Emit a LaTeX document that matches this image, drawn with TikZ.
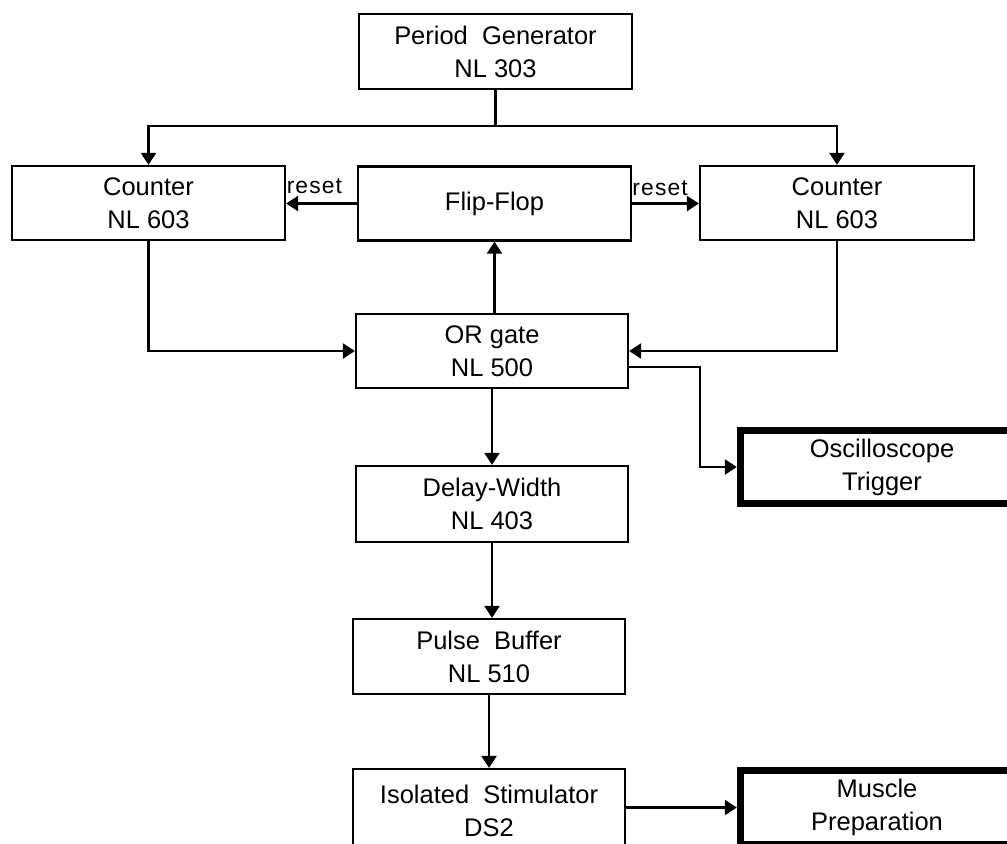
\documentclass[tikz,border=0pt]{standalone}
\usepackage{fontspec}
\setmainfont{Liberation Sans}
\usetikzlibrary{arrows.meta}
\tikzset{
  blk/.style={draw, line width=1.3pt, align=center, inner sep=1pt,
    font=\fontsize{14.5}{18.7}\selectfont},
  heavy/.style={blk, line width=4.2pt},
  arr/.style={line width=1.3pt, -{Triangle[length=0.24cm,width=0.3cm]}},
  lbl/.style={font=\fontsize{13}{14}\selectfont\addfontfeatures{LetterSpace=5}, inner sep=0pt}
}
\begin{document}
\begin{tikzpicture}[x=0.02cm,y=-0.02cm]
\useasboundingbox (0,0) rectangle (1007,843);
\clip (0,0) rectangle (1007,843);
\node[blk, minimum width=5.46cm, minimum height=1.5cm] (pg) at (495.5,51.5) {Period\ \ Generator\\NL 303};
\node[blk, minimum width=5.46cm, minimum height=1.48cm] (lc) at (148.5,203) {Counter\\NL 603};
\node[blk, minimum width=5.46cm, minimum height=1.48cm] (ff) at (494.5,203.5) {Flip-Flop};
\node[blk, minimum width=5.48cm, minimum height=1.48cm] (rc) at (837,203) {Counter\\NL 603};
\node[blk, minimum width=5.44cm, minimum height=1.48cm] (or) at (492,351) {OR gate\\NL 500};
\node[blk, minimum width=5.44cm, minimum height=1.52cm] (dw) at (492,504) {Delay-Width\\NL 403};
\node[blk, minimum width=5.44cm, minimum height=1.5cm] (pb) at (489,656.5) {Pulse\ \ Buffer\\NL 510};
\node[blk, minimum width=5.44cm, minimum height=1.68cm] (iso) at (489,811) {Isolated\ \ Stimulator\\DS2};
\node[heavy, minimum width=5.66cm, minimum height=1.46cm] (osc) at (882,467) {Oscilloscope\\Trigger};
\node[heavy, minimum width=5.46cm, minimum height=1.48cm] (mus) at (877,807.5) {Muscle\\Preparation};
\coordinate (split) at (pg.south |- 0,126);
\draw[line width=1.3pt] (pg.south) -- (split);
\draw[arr] (split) -| (lc.north);
\draw[arr] (split) -| (rc.north);
\draw[arr] (ff.west) -- (ff.west -| lc.east) node[lbl, pos=0.6, above=5pt] {reset};
\draw[arr] (ff.east) -- (ff.east -| rc.west) node[lbl, pos=0.42, above=4pt] {reset};
\draw[arr] (ff.south |- or.north) -- (ff.south);
\draw[arr] (lc.south) |- (or.west);
\draw[arr] (rc.south) |- (or.east);
\draw[arr] ([yshift=-0.32cm]or.east) -- ++(71,0) |- (osc.west);
\draw[arr] (or.south) -- (or.south |- dw.north);
\draw[arr] (dw.south) -- (dw.south |- pb.north);
\draw[arr] (pb.south) -- (pb.south |- iso.north);
\draw[arr] (iso.east |- mus.west) -- (mus.west);
\end{tikzpicture}
\end{document}
